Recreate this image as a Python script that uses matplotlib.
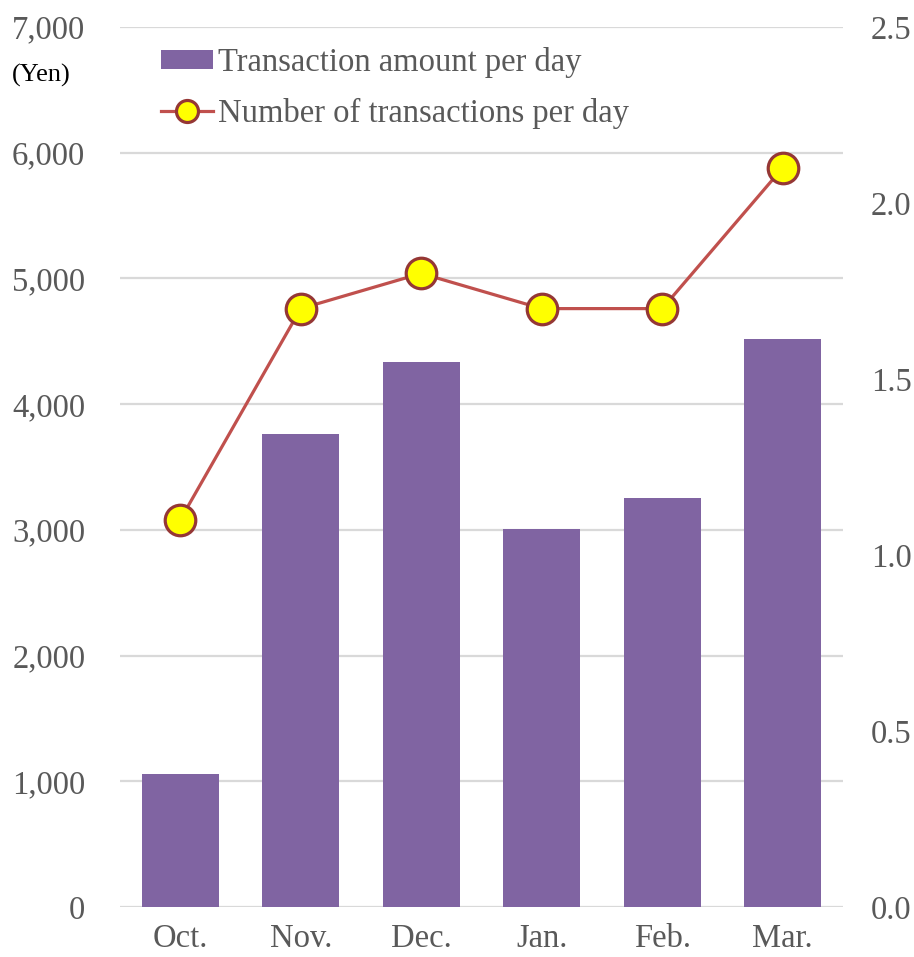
import matplotlib
matplotlib.use("Agg")
from matplotlib import pyplot as plt
from matplotlib.ticker import FuncFormatter

months = ["Oct.", "Nov.", "Dec.", "Jan.", "Feb.", "Mar."]
amount_per_day = [1060, 3760, 4335, 3005, 3250, 4520]
count_per_day = [1.1, 1.7, 1.8, 1.7, 1.7, 2.1]

plt.rcParams['font.family'] = ['Liberation Serif', 'DejaVu Serif']
grey = '#595959'
fs = 23.5

fig = plt.figure(figsize=(9.14, 9.57), dpi=100)
ax = fig.add_axes([0.1313, 0.0522, 0.7910, 0.9196])
ax2 = ax.twinx()

x = range(len(months))
bars = ax.bar(x, amount_per_day, width=0.64, color='#8064A2', zorder=2,
              label='Transaction amount per day')
line, = ax2.plot(x, count_per_day, color='#C0504D', linewidth=2.3,
                 marker='o', markersize=22, markerfacecolor='#FFFF00',
                 markeredgecolor='#953735', markeredgewidth=2.3,
                 label='Number of transactions per day', zorder=3)

ax.set_ylim(0, 7000)
ax.set_yticks(range(0, 7001, 1000))
ax.yaxis.set_major_formatter(FuncFormatter(lambda v, p: f"{int(v):,}"))
ax2.set_ylim(0, 2.5)
ax2.set_yticks([0, 0.5, 1.0, 1.5, 2.0, 2.5])
ax2.yaxis.set_major_formatter(FuncFormatter(lambda v, p: f"{v:.1f}"))
ax.set_xlim(-0.5, 5.5)
ax.set_xticks(list(x))
ax.set_xticklabels(months)

ax.grid(axis='y', color='#D9D9D9', linewidth=1.6, zorder=0)
ax.set_axisbelow(True)
for a in (ax, ax2):
    for s in a.spines.values():
        s.set_visible(False)
    a.tick_params(length=0, labelsize=fs, labelcolor=grey)
ax.tick_params(axis='y', pad=25)
ax.tick_params(axis='x', pad=12)
ax2.tick_params(axis='y', pad=20)

fig.text(0.013, 0.9216, "(Yen)", fontsize=19, color='black', va='center')

ax.legend([bars, line], [bars.get_label(), line.get_label()],
          loc='upper left', bbox_to_anchor=(0.162, 0.9645),
          bbox_transform=fig.transFigure, frameon=False, fontsize=fs,
          labelcolor=grey, handlelength=1.6, handleheight=0.5,
          handletextpad=0.15, labelspacing=0.6, borderaxespad=0,
          markerscale=0.72)

fig.savefig("out.png", dpi=100)
